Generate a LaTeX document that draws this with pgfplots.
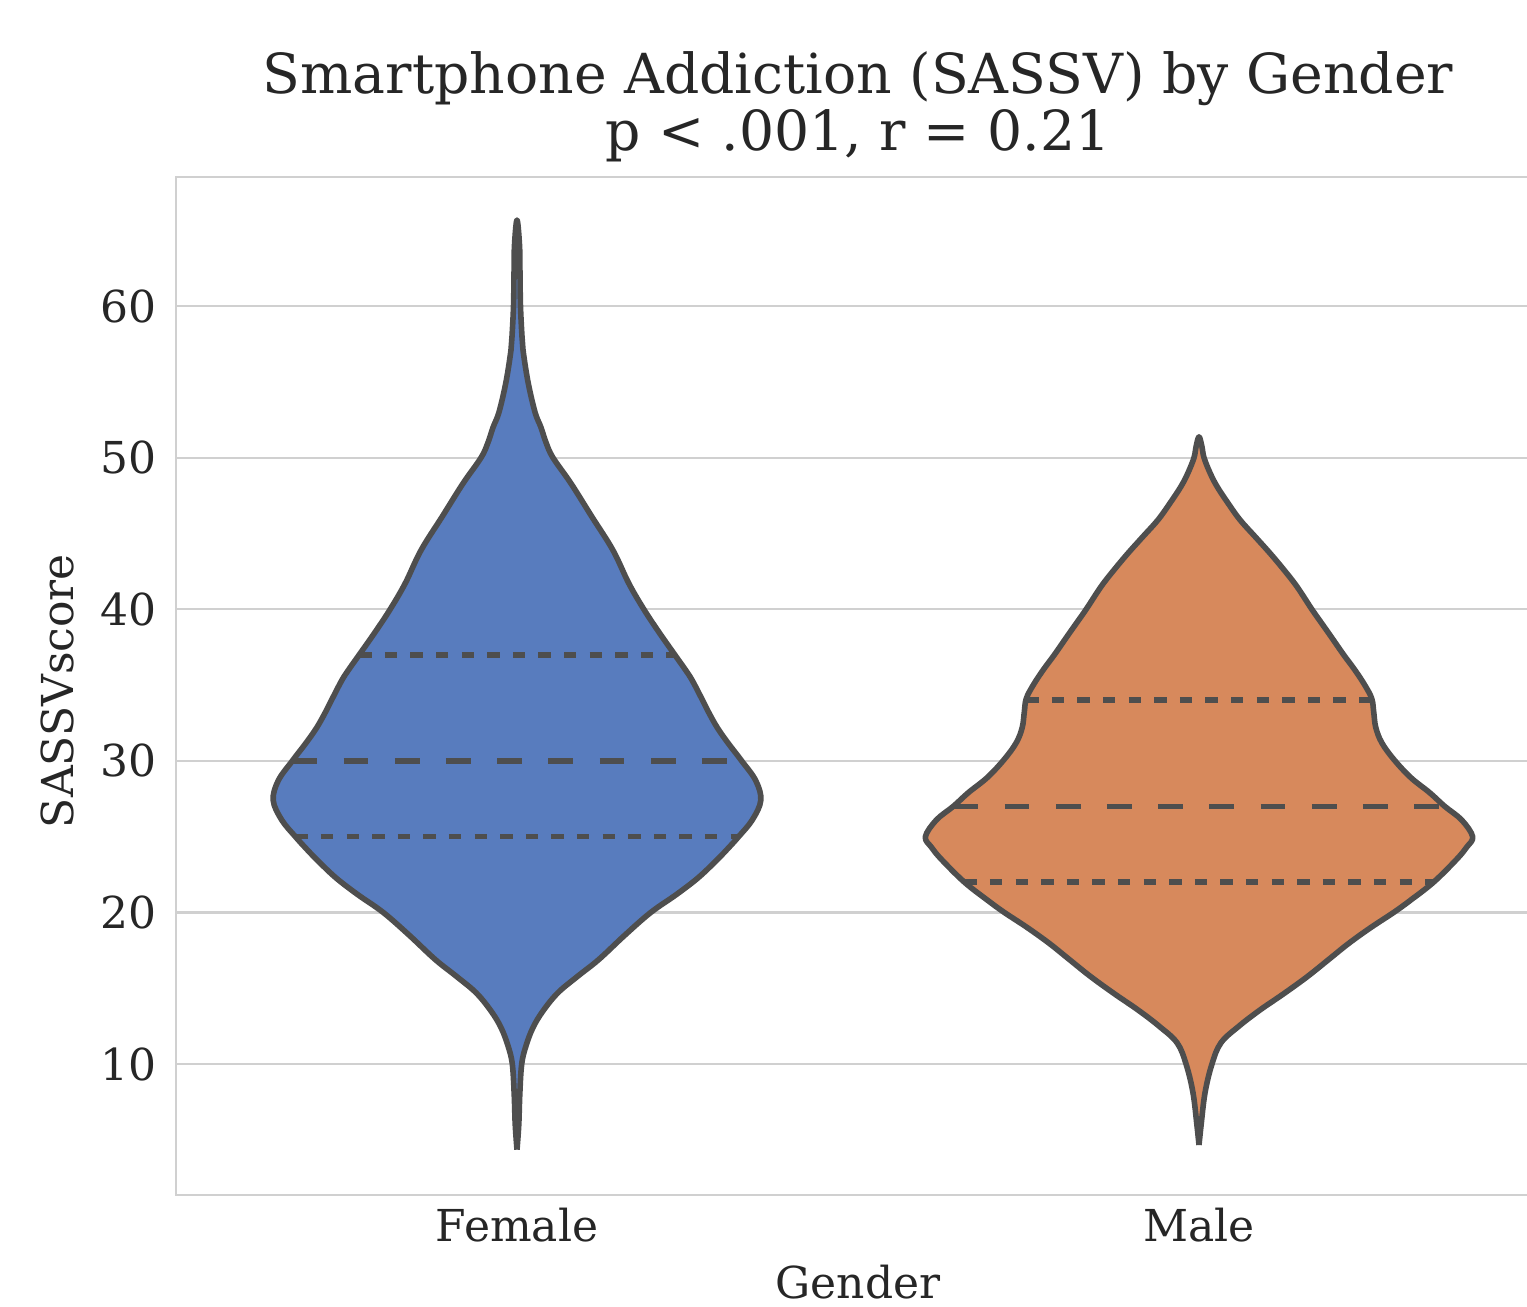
\documentclass[border=0pt]{standalone}
\usepackage{fontspec}
\setmainfont{DejaVu Serif}
\usepackage{pgfplots}
\pgfplotsset{compat=1.18}
\definecolor{fblue}{RGB}{88,124,190}
\definecolor{morange}{RGB}{215,137,92}
\definecolor{vgray}{RGB}{78,78,78}
\definecolor{gridc}{RGB}{208,208,208}
\definecolor{txt}{RGB}{38,38,38}
\begin{document}
\begin{tikzpicture}
\begin{axis}[
  name=ax,
  at={(0,0)}, anchor=south west,
  width=341pt, height=254.5pt, scale only axis,
  xmin=-0.5, xmax=1.5, ymin=1.36, ymax=68.51,
  xtick={0,1}, xticklabels={Female,Male},
  ytick={10,20,30,40,50,60},
  /pgf/number format/assume math mode=true,
  ymajorgrids, xmajorgrids=false,
  grid style={gridc, line width=0.55pt},
  axis line style={gridc, line width=0.6pt},
  major tick length=0pt,
  tick label style={font=\fontsize{11}{13}\selectfont, text=txt},
  xticklabel style={anchor=base, inner sep=0pt, yshift=-11.7pt},
  yticklabel style={anchor=east, inner sep=0pt, xshift=-4.75pt},
  title={Smartphone Addiction (SASSV) by Gender\\p < .001, r = 0.21},
  title style={font=\fontsize{13.8}{14.2}\selectfont, align=center, text=txt,
    at={(axis description cs:0.5,1)}, anchor=south, inner sep=0pt, yshift=-2.5pt},
  xlabel={Gender},
  xlabel style={font=\fontsize{11}{13}\selectfont, text=txt,
    at={(axis description cs:0.5,0)}, anchor=base, inner sep=0pt, yshift=-25.8pt},
  ylabel={SASSVscore},
  ylabel style={font=\fontsize{11}{13}\selectfont, text=txt, rotate=0,
    at={(axis description cs:-0.074,0.495)}, anchor=south, inner sep=0pt},
]
% Female violin
\addplot[fill=fblue, draw=vgray, line width=1.4pt, line join=round, smooth, tension=0.6] coordinates {
(0,4.35) (0.0026,6) (0.0041,8) (0.0069,10) (0.0132,11.2) (0.0234,12.4) (0.0381,13.5)
(0.0600,14.7) (0.0893,15.8) (0.1201,16.9) (0.1581,18.5) (0.1962,20) (0.2343,21.2)
(0.2660,22.3) (0.2940,23.5) (0.3110,24.3) (0.3250,25) (0.3450,26.1) (0.3575,27.4)
(0.3500,28.7) (0.3294,30) (0.3090,31.2) (0.2935,32.2) (0.2810,33.2) (0.2720,34)
(0.2570,35.3) (0.2470,36) (0.2313,37) (0.2079,38.5) (0.1859,40) (0.1640,41.7)
(0.1406,43.9) (0.1098,46.1) (0.0791,48.3) (0.0527,50) (0.0425,51) (0.0351,52)
(0.0264,53) (0.0161,55) (0.0088,57.1) (0.0073,58) (0.0051,60) (0.0044,62) (0.0037,64)
(0,65.67)
(-0.0037,64) (-0.0044,62) (-0.0051,60) (-0.0073,58) (-0.0088,57.1) (-0.0161,55)
(-0.0264,53) (-0.0351,52) (-0.0425,51) (-0.0527,50) (-0.0791,48.3) (-0.1098,46.1)
(-0.1406,43.9) (-0.1640,41.7) (-0.1859,40) (-0.2079,38.5) (-0.2313,37) (-0.2470,36)
(-0.2570,35.3) (-0.2720,34) (-0.2810,33.2) (-0.2935,32.2) (-0.3090,31.2) (-0.3294,30)
(-0.3500,28.7) (-0.3575,27.4) (-0.3450,26.1) (-0.3250,25) (-0.3110,24.3) (-0.2940,23.5)
(-0.2660,22.3) (-0.2343,21.2) (-0.1962,20) (-0.1581,18.5) (-0.1201,16.9) (-0.0893,15.8)
(-0.0600,14.7) (-0.0381,13.5) (-0.0234,12.4) (-0.0132,11.2) (-0.0069,10) (-0.0041,8)
(-0.0026,6) (0,4.35)
};
% Male violin
\addplot[fill=morange, draw=vgray, line width=1.4pt, line join=round, smooth, tension=0.6] coordinates {
(1,4.66) (1.0029,5.9) (1.0088,8.1) (1.0190,10) (1.0322,11.4) (1.0586,12.5) (1.0893,13.56)
(1.1230,14.6) (1.1581,15.74) (1.1903,16.9) (1.2196,17.96) (1.2518,19) (1.2855,20)
(1.3100,20.8) (1.3441,22) (1.3777,23.5) (1.3924,24.3) (1.4012,25) (1.3851,26.1)
(1.3602,27) (1.3382,27.9) (1.3104,28.9) (1.2855,30.1) (1.2679,31.2) (1.2592,32.2)
(1.2562,33.2) (1.2533,34.1) (1.2430,35) (1.2284,36) (1.2120,37) (1.1935,38.2)
(1.1810,39) (1.1654,40) (1.1435,41.5) (1.1245,42.6) (1.1040,43.7) (1.0820,44.8)
(1.0600,45.9) (1.0425,47) (1.0264,48.1) (1.0161,49) (1.0073,50) (1.0044,50.7)
(1,51.37)
(0.9956,50.7) (0.9927,50) (0.9839,49) (0.9736,48.1) (0.9575,47) (0.9400,45.9)
(0.9180,44.8) (0.8960,43.7) (0.8755,42.6) (0.8565,41.5) (0.8346,40) (0.8190,39)
(0.8065,38.2) (0.7880,37) (0.7716,36) (0.7570,35) (0.7467,34.1) (0.7438,33.2)
(0.7408,32.2) (0.7321,31.2) (0.7145,30.1) (0.6896,28.9) (0.6618,27.9) (0.6398,27)
(0.6149,26.1) (0.5988,25) (0.6076,24.3) (0.6223,23.5) (0.6559,22) (0.6900,20.8)
(0.7145,20) (0.7482,19) (0.7804,17.96) (0.8097,16.9) (0.8419,15.74) (0.8770,14.6)
(0.9107,13.56) (0.9414,12.5) (0.9678,11.4) (0.9810,10) (0.9912,8.1) (0.9971,5.9)
(1,4.66)
};
% Female quartiles
\addplot[vgray, line width=1.4pt, dash pattern=on 3.1pt off 3.3pt] coordinates {(-0.2313,37) (0.2313,37)};
\addplot[vgray, line width=1.4pt, dash pattern=on 6.2pt off 6.6pt] coordinates {(-0.3294,30) (0.3294,30)};
\addplot[vgray, line width=1.4pt, dash pattern=on 3.1pt off 3.3pt] coordinates {(-0.3250,25) (0.3250,25)};
% Male quartiles
\addplot[vgray, line width=1.4pt, dash pattern=on 3.1pt off 3.3pt] coordinates {(0.7467,34) (1.2533,34)};
\addplot[vgray, line width=1.4pt, dash pattern=on 6.2pt off 6.6pt] coordinates {(0.6398,27) (1.3602,27)};
\addplot[vgray, line width=1.4pt, dash pattern=on 3.1pt off 3.3pt] coordinates {(0.6559,22) (1.3441,22)};
\end{axis}
\pgfresetboundingbox
\path[use as bounding box] (-44pt,-27.75pt) rectangle (337.75pt,298.75pt);
\end{tikzpicture}
\end{document}
